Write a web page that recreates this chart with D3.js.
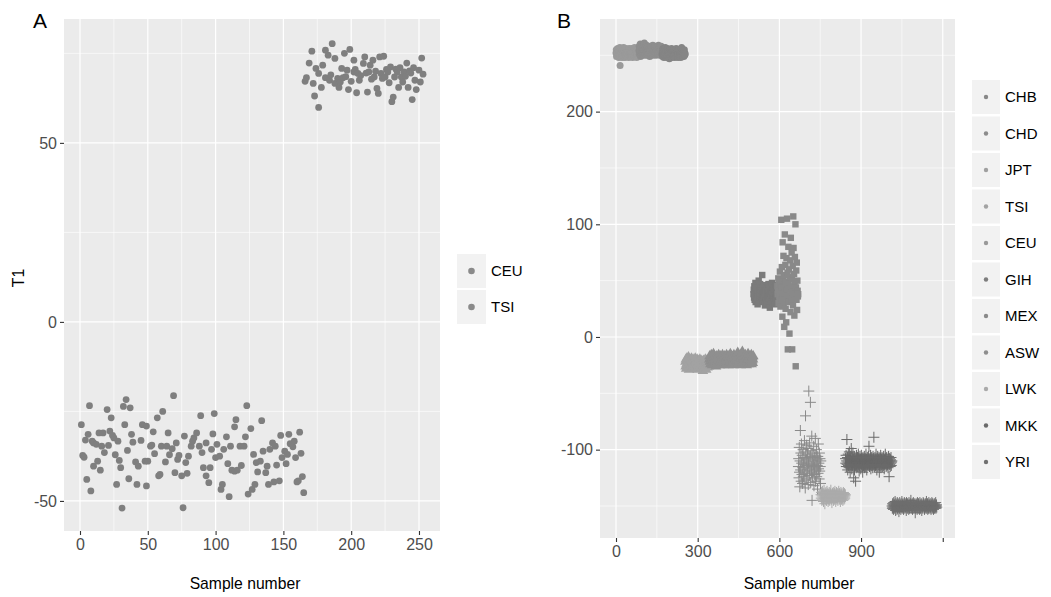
<!DOCTYPE html>
<html><head><meta charset="utf-8">
<script src="https://cdn.jsdelivr.net/npm/d3@7"></script>
<style>body{margin:0;background:#fff}svg{display:block}text{font-family:"Liberation Sans",Arial,sans-serif}</style>
</head><body>
<script>
// ---------- Panel A data: [sample number, T1] ----------
const ceuA = [[1,-28.7],[2,-37.3],[3,-37.8],[4,-33],[5,-44],[6,-31.4],[7,-23.4],[8,-47.2],[9,-33.3],[10,-33.8],[10,-40.3],[12,-34.2],[13,-38.9],[14,-31],[15,-41.4],[16,-34.7],[17,-31],[18,-36.5],[20,-24.5],[21,-34.5],[22,-30.5],[23,-26.8],[24,-31.7],[25,-32.4],[26,-37.1],[27,-45.4],[28,-33.3],[29,-38.7],[30,-40.7],[31,-52],[32,-23.6],[33,-28.7],[34,-21.7],[35,-35.9],[36,-43.8],[37,-24],[38,-31.4],[39,-33.6],[41,-39.1],[42,-45.4],[43,-40.3],[45,-33.1],[46,-28.7],[48,-38.9],[49,-29.1],[49,-45.8],[50,-38.9],[52,-34.7],[53,-34.4],[54,-30.7],[55,-36.8],[57,-26.8],[58,-43],[59,-42.6],[60,-34.7],[61,-25],[63,-39.1],[64,-34.7],[65,-31],[66,-37.1],[68,-35.4],[69,-20.6],[70,-42.1],[71,-33.8],[72,-38.4],[73,-37.3],[75,-43],[76,-51.9],[77,-31.9],[78,-39.3],[79,-42.3],[80,-37.5],[82,-34.7],[83,-33.3],[84,-32.4],[86,-31],[88,-34.7],[89,-26.2],[90,-36.5],[91,-40.7],[93,-33.8],[93,-43],[95,-44.9],[96,-40.7],[97,-35.6],[98,-31.3],[99,-25.6],[100,-37.9],[101,-34.2],[103,-37.5],[104,-46.8],[105,-45.4],[106,-35.6],[108,-32.1],[109,-39.6],[110,-48.8],[111,-34.7],[112,-41.4],[114,-41.7],[114,-29.3],[115,-27.3],[116,-41.4],[118,-34.7],[119,-40.1],[121,-34.7],[122,-32.1],[123,-23.4],[124,-48.1],[126,-29.8],[127,-46.8],[128,-37],[129,-45.4],[130,-39.3],[131,-41.9],[133,-38.9],[134,-27.6],[135,-36.1],[137,-42.1],[138,-40.3],[139,-45.4],[140,-35.6],[142,-33.8],[143,-44.7],[144,-34.7],[145,-40],[147,-44.4],[148,-31.7],[149,-37.9],[151,-36.1],[152,-39.6],[153,-37],[154,-31.4],[155,-34],[157,-34.9],[158,-33.3],[159,-37.9],[160,-44.7],[161,-44.4],[162,-30.8],[163,-36.7],[164,-43.2],[165,-47.7]];
const tsiA = [[166,67.2],[167,68.2],[169,72.3],[171,75.6],[172,66.6],[173,63.1],[174,70.8],[176,59.9],[176,69.4],[178,65.5],[179,71.7],[181,75.9],[181,68.2],[183,74.5],[184,67.5],[185,69],[186,77.7],[188,73.6],[188,66.6],[190,68],[191,65.5],[192,67],[193,70.8],[194,68.2],[195,75],[196,68.5],[197,70.3],[198,64.9],[199,76.1],[200,67.2],[202,69.8],[202,73.1],[203,70.5],[204,64],[205,69.4],[206,67.5],[207,68.8],[209,72.2],[210,74],[211,69.5],[212,64.2],[213,69.8],[214,71.7],[215,67.8],[216,73.1],[217,68.4],[218,70],[219,65.2],[220,63.8],[221,74],[222,69.4],[223,68],[224,74.2],[225,68.4],[226,70.5],[227,69.8],[228,66.8],[229,71.2],[230,61.5],[231,62.8],[232,68.4],[233,70.6],[234,69.8],[235,65.5],[236,71],[237,68.4],[238,67],[239,69.8],[240,68.6],[241,72.3],[242,65.5],[243,70.1],[244,69.5],[245,62.1],[246,71],[247,67.5],[248,64.9],[250,70.3],[251,67],[252,73.7],[253,69.2]];
const groupsA = ["CEU","TSI"];
const xTicksA = [0,50,100,150,200,250];
const yTicksA = [-50,0,50];

// ---------- Panel B data: T1 per sample, in sample order ----------
const popsB = ["CHB","CHD","JPT","TSI","CEU","GIH","MEX","ASW","LWK","MKK","YRI"];
const chbB = [252,255,249,253,253,251,256,250,254,252,248,255,253,250,257,241,249,254,252,256,250,253,248,255,251,254,252,249,257,253,250,252,255,248,251,254,256,250,253,252,249,255,251,253,250,254,252,248,256,251,253,250,255,252,249,254,251,253,256,250,252,248,255,251,254,253,250,252,257,249,253,251,255,250,252,254,248,253,251,256,250,252,254,251];
const chdB = [254,258,251,256,253,260,249,255,252,257,254,250,259,253,256,251,255,258,252,254,261,250,256,253,257,251,255,254,259,252,256,250,253,258,255,251,257,254,252,256,249,255,258,253,251,257,254,256,252,255,253,259,250,256,254,252,257,255,251,254,258,253,256,250,255,252,257,254,253,256,251,255,259,252,254,257,253,250,256,255,252,254,258,253,251];
const jptB = [251,253,249,256,250,252,254,248,251,255,250,253,257,249,252,254,251,248,253,250,256,252,249,251,254,250,253,247,252,255,251,249,253,250,252,256,248,251,254,250,252,253,249,251,255,250,252,248,254,251,253,250,256,249,252,251,254,250,253,248,252,251,255,249,253,250,252,254,251,248,253,250,257,252,249,251,254,250,252,253,249,251,255,250,252,251];
const tsiB = [-22,-26,-20,-28,-24,-19,-25,-27,-21,-23,-26,-18,-24,-29,-22,-25,-20,-27,-23,-21,-26,-24,-19,-28,-22,-25,-23,-27,-20,-24,-26,-21,-25,-22,-28,-23,-19,-26,-24,-21,-27,-23,-25,-20,-24,-29,-22,-26,-23,-21,-25,-27,-24,-20,-26,-22,-28,-24,-21,-25,-23,-27,-22,-24,-30,-26,-21,-25,-23,-28,-24,-22,-26,-20,-25,-23,-29,-24,-21,-26,-22,-27,-24,-23,-25,-20,-26,-22];
const ceuB = [-20,-17,-22,-19,-24,-18,-21,-16,-23,-20,-25,-19,-22,-18,-21,-15,-23,-20,-17,-24,-19,-22,-21,-18,-26,-20,-23,-17,-21,-19,-24,-22,-18,-20,-16,-23,-21,-19,-25,-20,-17,-22,-18,-21,-24,-19,-20,-23,-16,-22,-18,-21,-20,-25,-19,-17,-23,-21,-18,-22,-20,-24,-19,-16,-21,-23,-18,-20,-22,-17,-25,-19,-21,-20,-23,-18,-22,-15,-20,-24,-19,-21,-17,-22,-20,-18,-23,-21,-19,-25,-16,-20,-22,-18,-21,-24,-19,-20,-17,-23,-21,-18,-22,-20,-14,-19,-24,-21,-17,-22,-20,-18,-23,-19,-21,-25,-16,-20,-22,-18,-21,-13,-19,-23,-20,-17,-22,-24,-18,-21,-19,-20,-16,-23,-22,-18,-21,-25,-19,-17,-20,-22,-15,-21,-18,-24,-19,-20,-23,-17,-21,-18,-22,-20,-16,-24,-19,-21,-18,-23,-20,-17];
const gihB = [38,42,35,45,33,40,37,48,31,43,36,39,46,34,41,29,44,38,36,50,33,40,42,35,47,37,31,44,39,36,41,34,55,38,43,32,40,37,45,35,39,42,28,46,36,41,33,38,44,37,30,40,35,43,39,47,34,41,36,38,26,42,45,33,39,37,40,35,48,31,43,38,36,41,34,44,39,37,29,42,35,40,46,33,38,36,41,39];
const mexB = [45,38,40,52,30,47,41,36,35,58,48,27,46,40,104,33,62,44,18,84,50,36,72,29,55,9,46,91,39,64,25,49,13,70,42,105,34,57,-11,47,80,31,60,43,3,53,37,68,22,88,45,32,75,51,-11,40,63,28,107,79,35,56,19,48,71,38,100,-26,44,59,33,66,24,50,41,36,38];
const aswB = [-115,-108,-125,-98,-120,-133,-110,-83,-118,-103,-128,-95,-112,-122,-105,-130,-116,-100,-124,-113,-107,-127,-92,-119,-111,-134,-70,-102,-121,-109,-96,-126,-114,-104,-118,-99,-131,-112,-48,-108,-123,-94,-117,-106,-58,-129,-101,-115,-120,-88,-145,-110,-125,-103,-119,-113,-97,-132,-107,-116,-122,-105,-90,-128,-111,-118,-100,-124,-109,-114,-135,-106,-121,-95,-117,-112,-126,-103,-119,-108,-115,-130,-110];
const lwkB = [-140,-143,-138,-145,-141,-137,-144,-142,-139,-146,-140,-136,-143,-141,-148,-139,-142,-144,-138,-141,-145,-140,-137,-143,-142,-139,-146,-141,-140,-144,-138,-142,-145,-141,-139,-143,-136,-140,-144,-142,-147,-141,-139,-143,-140,-138,-145,-142,-141,-144,-139,-137,-143,-141,-146,-140,-142,-138,-144,-141,-139,-143,-145,-140,-142,-137,-141,-144,-139,-143,-140,-146,-142,-138,-141,-144,-140,-139,-143,-142,-145,-141,-138,-140,-144,-142,-139,-143,-141,-140];
const mkkB = [-108,-112,-105,-115,-110,-91,-113,-107,-118,-111,-104,-114,-109,-116,-102,-112,-108,-120,-110,-106,-113,-99,-111,-117,-107,-114,-110,-103,-115,-109,-125,-112,-106,-118,-111,-108,-114,-128,-110,-113,-105,-116,-109,-112,-107,-115,-111,-104,-113,-108,-119,-110,-114,-106,-112,-109,-117,-111,-105,-113,-108,-115,-110,-120,-107,-112,-114,-109,-111,-106,-116,-113,-108,-110,-115,-104,-112,-109,-118,-111,-107,-113,-110,-114,-106,-112,-97,-109,-115,-111,-108,-113,-105,-117,-110,-112,-107,-114,-109,-111,-116,-106,-113,-108,-89,-112,-110,-115,-107,-111,-114,-109,-104,-113,-110,-118,-108,-112,-106,-115,-111,-109,-113,-107,-120,-110,-114,-108,-112,-105,-116,-111,-109,-113,-107,-115,-110,-112,-108,-114,-106,-111,-117,-109,-113,-110,-104,-112,-108,-115,-111,-107,-114,-110,-113,-109,-116,-112,-106,-111,-124,-108,-113,-110,-115,-109,-112,-107,-114,-111,-110];
const yriB = [-150,-152,-148,-151,-149,-153,-147,-150,-152,-149,-151,-146,-150,-154,-148,-151,-150,-149,-153,-147,-152,-150,-148,-151,-149,-155,-150,-152,-147,-151,-149,-150,-153,-148,-151,-150,-146,-152,-149,-151,-148,-150,-153,-149,-151,-147,-150,-152,-148,-151,-150,-149,-154,-147,-151,-150,-152,-148,-149,-151,-150,-153,-147,-150,-152,-149,-151,-148,-150,-145,-152,-149,-151,-150,-148,-153,-149,-151,-147,-150,-152,-148,-151,-150,-149,-156,-150,-152,-148,-151,-149,-150,-153,-147,-151,-150,-152,-148,-149,-151,-150,-153,-147,-150,-152,-149,-151,-148,-150,-154,-149,-151,-150,-152,-147,-150,-148,-151,-149,-153,-150,-152,-148,-151,-149,-150,-146,-152,-150,-151,-148,-153,-149,-150,-152,-147,-151,-150,-149,-152,-148,-151,-150,-153,-149,-150,-147,-152,-151,-148,-150,-149,-153,-150,-151,-148,-152,-149,-150,-151,-147,-152,-150,-149,-151];
const valuesB = [chbB,chdB,jptB,tsiB,ceuB,gihB,mexB,aswB,lwkB,mkkB,yriB];
const shapesB = ["circle","circle","circle","triangle","triangle","square","square","plus","plus","plus","plus"];
const xTicksB = [0,300,600,900,1200];
const xTickLabelsB = ["0","300","600","900",""];
const yTicksB = [-100,0,100,200];

// ---------- styling ----------
const colorA = "#7f7f7f";
const colorsB = ["#9a9a9a","#8e8e8e","#858585","#a2a2a2","#8f8f8f","#7b7b7b","#898989","#8a8a8a","#ababab","#696969","#6e6e6e"];
const legendDotB = ["#888888","#8c8c8c","#a0a0a0","#a3a3a3","#999999","#7d7d7d","#8a8a8a","#8e8e8e","#aaaaaa","#6a6a6a","#707070"];

const W = 1051, H = 597;
const svg = d3.select("body").append("svg").attr("width", W).attr("height", H);

function drawPanel(p) {
  const g = svg.append("g");
  const x = d3.scaleLinear().domain(p.xDomain).range([p.left, p.right]);
  const y = d3.scaleLinear().domain(p.yDomain).range([p.bottom, p.top]);
  g.append("rect").attr("x", p.left).attr("y", p.top).attr("width", p.right - p.left).attr("height", p.bottom - p.top).attr("fill", "#ebebeb");
  const xs = p.xTicks, ys = p.yTicks;
  const xMinor = xs.slice(0, -1).map((v, i) => (v + xs[i + 1]) / 2);
  const yStep = ys[1] - ys[0];
  const yMinor = [];
  for (let v = ys[0] - yStep / 2; v <= p.yDomain[1]; v += yStep) if (v >= p.yDomain[0]) yMinor.push(v);
  g.selectAll(".xm").data(xMinor).join("line").attr("x1", d => x(d)).attr("x2", d => x(d)).attr("y1", p.top).attr("y2", p.bottom).attr("stroke", "#fff").attr("stroke-width", 0.6);
  g.selectAll(".ym").data(yMinor).join("line").attr("y1", d => y(d)).attr("y2", d => y(d)).attr("x1", p.left).attr("x2", p.right).attr("stroke", "#fff").attr("stroke-width", 0.6);
  g.selectAll(".xM").data(xs).join("line").attr("x1", d => x(d)).attr("x2", d => x(d)).attr("y1", p.top).attr("y2", p.bottom).attr("stroke", "#fff").attr("stroke-width", 1.2);
  g.selectAll(".yM").data(ys).join("line").attr("y1", d => y(d)).attr("y2", d => y(d)).attr("x1", p.left).attr("x2", p.right).attr("stroke", "#fff").attr("stroke-width", 1.2);
  const xa = g.append("g").attr("transform", `translate(0,${p.bottom})`)
    .call(d3.axisBottom(x).tickValues(xs).tickFormat((d, i) => p.xLabels ? p.xLabels[i] : d).tickSize(4).tickPadding(4));
  const ya = g.append("g").attr("transform", `translate(${p.left},0)`)
    .call(d3.axisLeft(y).tickValues(ys).tickFormat(d => d).tickSize(4).tickPadding(3));
  [xa, ya].forEach(a => {
    a.select(".domain").remove();
    a.selectAll(".tick line").attr("stroke", "#333").attr("stroke-width", 1.1);
    a.selectAll(".tick text").attr("fill", "#4d4d4d").style("font-size", "16px").style("font-family", "Liberation Sans, Arial, sans-serif");
  });
  g.append("text").attr("x", p.titleX).attr("y", 589).attr("text-anchor", "middle").style("font-size", "15.7px").attr("fill", "#000").text("Sample number");
  return { g, x, y };
}

// ---------- Panel A ----------
const pa = { left: 64, right: 440, top: 19, bottom: 531, xDomain: [-11.8, 265.5], yDomain: [-58.4, 84.6], xTicks: xTicksA, yTicks: yTicksA, titleX: 245 };
const A = drawPanel(pa);
A.g.append("g").selectAll("circle").data(ceuA.concat(tsiA)).join("circle")
  .attr("cx", d => A.x(d[0])).attr("cy", d => A.y(d[1])).attr("r", 3.4).attr("fill", colorA);
svg.append("text").attr("x", 33).attr("y", 28).style("font-size", "21px").text("A");
svg.append("text").attr("transform", "translate(24,278) rotate(-90)").attr("text-anchor", "middle").style("font-size", "15.7px").text("T1");
const legA = svg.append("g");
groupsA.forEach((name, i) => {
  const y0 = 254 + i * 36;
  legA.append("rect").attr("x", 457).attr("y", y0).attr("width", 29).attr("height", 34).attr("fill", "#f2f2f2");
  legA.append("circle").attr("cx", 471.5).attr("cy", y0 + 17).attr("r", 3.3).attr("fill", "#8a8a8a");
  legA.append("text").attr("x", 491).attr("y", y0 + 17).attr("dy", "0.36em").style("font-size", "15px").text(name);
});

// ---------- Panel B ----------
const pb = { left: 600, right: 955, top: 19, bottom: 538, xDomain: [-58.8, 1245], yDomain: [-178.4, 282.2], xTicks: xTicksB, yTicks: yTicksB, xLabels: xTickLabelsB, titleX: 799 };
const B = drawPanel(pb);
let start = 0;
const pts = [];
valuesB.forEach((vals, k) => {
  vals.forEach((v, i) => pts.push({ pop: k, s: start + i, v }));
  start += vals.length;
});
const tri = d3.symbol().type(d3.symbolTriangle).size(50)();
const gB = B.g.append("g");
pts.forEach(d => {
  const cx = B.x(d.s), cy = B.y(d.v), col = colorsB[d.pop], sh = shapesB[d.pop];
  if (sh === "circle") gB.append("circle").attr("cx", cx).attr("cy", cy).attr("r", 3.5).attr("fill", col);
  else if (sh === "triangle") gB.append("path").attr("d", tri).attr("transform", `translate(${cx},${cy})`).attr("fill", col);
  else if (sh === "square") gB.append("rect").attr("x", cx - 3.2).attr("y", cy - 3.2).attr("width", 6.4).attr("height", 6.4).attr("fill", col);
  else gB.append("path").attr("d", `M${cx - 5.5},${cy}H${cx + 5.5}M${cx},${cy - 5.5}V${cy + 5.5}`).attr("stroke", col).attr("stroke-width", 1).attr("fill", "none");
});
svg.append("text").attr("x", 557).attr("y", 28).style("font-size", "21px").text("B");
const legB = svg.append("g");
popsB.forEach((name, i) => {
  const y0 = 80 + i * 36.5;
  legB.append("rect").attr("x", 972).attr("y", y0).attr("width", 28).attr("height", 34).attr("fill", "#f2f2f2");
  legB.append("circle").attr("cx", 986).attr("cy", y0 + 17).attr("r", 2.2).attr("fill", legendDotB[i]);
  legB.append("text").attr("x", 1005).attr("y", y0 + 17).attr("dy", "0.36em").style("font-size", "15px").text(name);
});
</script>
</body></html>
